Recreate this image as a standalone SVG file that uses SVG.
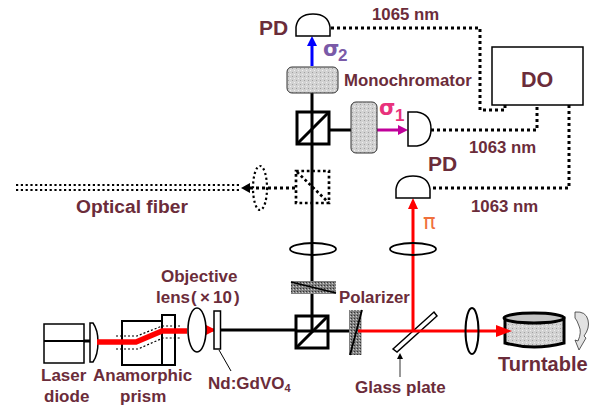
<svg xmlns="http://www.w3.org/2000/svg" width="596" height="405" viewBox="0 0 596 405">
<style>
text{font-family:"Liberation Sans",Arial,sans-serif;font-weight:bold;fill:#6b2c3a}
.f{fill:#fff;stroke:#000;stroke-width:1.5}
.o{fill:none;stroke:#000;stroke-width:2}
.b{fill:none;stroke:#000;stroke-width:3}
.d{fill:none;stroke:#000;stroke-width:3;stroke-dasharray:3 3}
.dt{fill:none;stroke:#000;stroke-width:2.2;stroke-dasharray:2.2 2.6}
.dk{fill:none;stroke:#000;stroke-width:2.700;stroke-dasharray:2.700 2.700}
.s{font-size:16.8px}
.m{font-size:17px}
.g{font-family:"DejaVu Sans",sans-serif;font-size:21px}
</style>
<defs>
<pattern id="g" width="4" height="4" patternUnits="userSpaceOnUse"><rect width="4" height="4" fill="#d2d2d2"/><rect width="1" height="1" fill="#a0a0a0"/><rect x="2" y="2" width="1" height="1" fill="#efefef"/></pattern>
<pattern id="k" width="3" height="3" patternUnits="userSpaceOnUse"><rect width="3" height="3" fill="#808080"/><rect width="1" height="1" fill="#333"/><rect x="2" y="1" width="1" height="1" fill="#ccc"/></pattern>
</defs>
<g id="connectors">
<path class="b" d="M84 341H90M220 330H296M312 93V331M296 331H352M329 130H351"/>
<path class="dt" d="M16 185H240M16 190H240"/>
<path class="d" d="M250 188H296M331 28H480V110H505V105M431 130H537V107M569 105V188H431"/>
<path d="M116 336H137L162 326H180M116 349H138L163 338H180" fill="none" stroke="#000" stroke-width="1.2" stroke-dasharray="2 2"/>
<path d="M206 330H214" stroke="#f00" stroke-width="3"/><path d="M206 325L216 330L206 335Z" fill="#f00"/>
<path d="M231 371L219 350" fill="none" stroke="#000" stroke-width="1"/>
<path d="M400 377V358" stroke="#333" stroke-width="1"/><path d="M400 353L403 359H397Z" fill="#000"/>
<path d="M241 188L250 183V193Z" fill="#000"/>
</g>
<g id="laser-diode"><rect class="f" x="44" y="324" width="40" height="39"/><path class="o" d="M44 341H84"/><path class="f" d="M90 323H93Q98 330 98 342Q98 355 93 362H90Z"/></g>
<g id="anamorphic-prism"><rect class="o" x="122" y="321" width="40" height="44"/><rect class="o" x="162" y="315" width="13" height="50"/></g>
<g id="objective-lens"><ellipse cx="197" cy="330" rx="9" ry="22" fill="#fff" stroke="#000" stroke-width="1.6"/></g>
<g id="crystal"><rect class="f" x="214" y="311" width="6.500" height="38"/></g>
<g id="bs-lower"><rect class="b" x="296" y="316" width="32" height="32"/><path class="b" d="M296 348L328 316"/></g>
<g id="polarizer-upper"><rect x="291" y="281" width="45" height="13" fill="url(#k)"/><path d="M291 282L336 293" stroke="#000" stroke-width="1.8"/></g>
<g id="polarizer"><rect x="349" y="310" width="12.500" height="45" fill="url(#k)"/><path d="M362 310L350 355" stroke="#000" stroke-width="1.8"/></g>
<g id="glass-plate"><path class="f" d="M393 349L434 312L437 316L397 352Z"/></g>
<path id="beam-in" d="M97 342H136L162 331H187" fill="none" stroke="#f00" stroke-width="5.500"/>
<path id="beam-up" d="M413 331V208" fill="none" stroke="#f00" stroke-width="3"/>
<path id="beam-out" d="M358 331H498" fill="none" stroke="#f00" stroke-width="3"/>
<g id="lens-turntable"><ellipse cx="472" cy="331" rx="6.500" ry="23" fill="none" stroke="#000" stroke-width="2"/></g>
<g id="turntable"><path d="M505 318V343Q534 351 564 343V318Z" fill="url(#g)" stroke="#000" stroke-width="3"/><ellipse cx="534" cy="318" rx="30" ry="5" fill="#c4c4c4" stroke="#000" stroke-width="3"/><path d="M575 312Q586 311 588 320Q590 328 584 336L586 338L579 350L575 340L578 341Q582 332 579 326Q577 320 575 318Z" fill="#e2e2e2" stroke="#333" stroke-width="0.8"/></g>
<path id="arrow-red" d="M496 325L512 331L496 337Z" fill="#f00"/>
<path id="arrow-up" d="M413 198L418 209H408Z" fill="#f00"/>
<g id="arrow-blue"><path d="M312 66V44" stroke="#00f" stroke-width="3"/><path d="M312 36L317 46H307Z" fill="#00f"/></g>
<g id="arrow-magenta"><path d="M377 130H400" stroke="#c0009a" stroke-width="3"/><path d="M408 130L398 125V135Z" fill="#c0009a"/></g>
<g id="lens-a"><ellipse cx="313" cy="249" rx="23" ry="6" fill="none" stroke="#000" stroke-width="1.800"/></g>
<g id="lens-b"><ellipse cx="413" cy="249" rx="23" ry="6" fill="none" stroke="#000" stroke-width="1.800"/></g>
<g id="bs-dotted"><rect class="dk" x="296" y="171" width="33" height="32"/><path class="dk" d="M297 172L329 203"/></g>
<g id="lens-fiber"><ellipse class="dt" cx="260" cy="188" rx="7" ry="22"/></g>
<g id="bs-upper"><rect class="b" x="297" y="112" width="32" height="32"/><path class="b" d="M297 144L329 112"/></g>
<g id="mono-side"><rect x="351" y="102" width="26" height="51" rx="5" fill="url(#g)" stroke="#333"/></g>
<g id="monochromator"><rect x="287" y="67" width="51" height="26" rx="5" fill="url(#g)" stroke="#333"/></g>
<g id="pd-top"><path class="f" d="M296 36V27Q298 14 313 14Q328 14 330 27V36Z"/></g>
<g id="pd-side"><path class="f" d="M408 112H417Q431 114 431 129Q431 144 417 146H408Z"/></g>
<g id="pd-low"><path class="f" d="M396 198V189Q398 176 413 176Q428 176 430 189V198Z"/></g>
<g id="do"><rect class="f" x="492" y="47" width="91" height="58"/></g>
<g id="labels">
<text x="259" y="35" font-size="21">PD</text>
<text x="372" y="20" class="s">1065 nm</text>
<text x="344" y="86" class="s">Monochromator</text>
<text x="521" y="87" font-size="21.500">DO</text>
<text x="323" y="56" class="g" style="fill:#7a5aa8">σ</text>
<text x="338" y="61" font-size="17" style="fill:#7a5aa8">2</text>
<text x="379" y="115" class="g" style="fill:#e8327c">σ</text>
<text x="395" y="121" font-size="17" style="fill:#e8327c">1</text>
<text x="469" y="153" class="s">1063 nm</text>
<text x="428" y="171" font-size="21">PD</text>
<text x="471" y="212" class="s">1063 nm</text>
<text x="423" y="229" font-size="21" style="fill:#f0703c;font-family:'DejaVu Sans',sans-serif;font-weight:normal">π</text>
<text x="76" y="213" font-size="19.200">Optical fiber</text>
<text x="161" y="282" class="m">Objective</text>
<text x="156" y="303" class="m">lens<tspan x="191">(</tspan><tspan x="200">×</tspan><tspan x="213">10</tspan><tspan x="234">)</tspan></text>
<text x="339" y="303" class="s">Polarizer</text>
<text x="41" y="381" class="m">Laser</text>
<text x="44" y="402" class="m">diode</text>
<text x="93" y="381" class="m">Anamorphic</text>
<text x="120" y="402" class="m">prism</text>
<text x="208" y="389" class="m">Nd:GdVO<tspan font-size="11" dy="3">4</tspan></text>
<text x="355" y="393" class="m">Glass plate</text>
<text x="498" y="371" font-size="20">Turntable</text>
</g>
</svg>
